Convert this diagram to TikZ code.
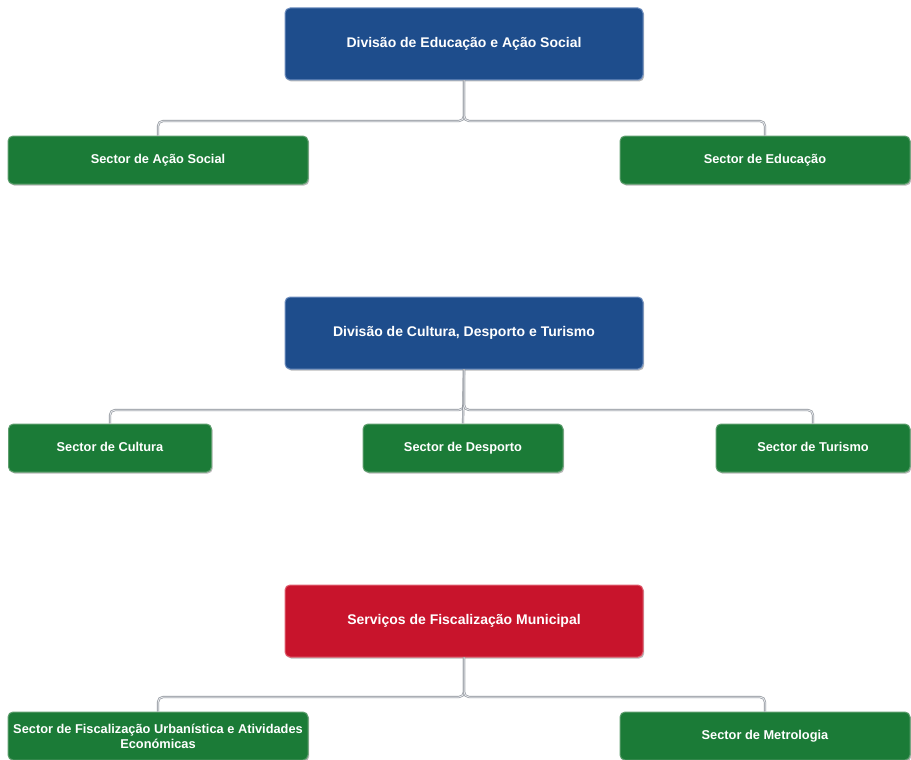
\documentclass[tikz,border=0pt]{standalone}
\usepackage{fontspec}
\setmainfont{Liberation Sans}
\usetikzlibrary{shadows}
\definecolor{divblue}{HTML}{1E4D8C}
\definecolor{divblueedge}{HTML}{6F8FBF}
\definecolor{secgreen}{HTML}{1B7B37}
\definecolor{secgreenedge}{HTML}{5E9E6E}
\definecolor{fisred}{HTML}{C8142C}
\definecolor{fisrededge}{HTML}{E06070}
\definecolor{linegray}{HTML}{8A8F96}
\definecolor{lineinner}{HTML}{E6E8EC}
\tikzset{
  boxbase/.style={rectangle, rounded corners=5pt, text=white, font=\bfseries,
    align=center, line width=1pt,
    drop shadow={shadow xshift=1.2pt, shadow yshift=-1.5pt, fill=black!45, opacity=0.6}},
  oneline/.style={text height=1.6ex, text depth=0.45ex},
  divbox/.style={boxbase, oneline, fill=divblue, draw=divblueedge, minimum width=358pt,
    minimum height=72pt, font=\bfseries\fontsize{14}{17}\selectfont},
  redbox/.style={boxbase, oneline, fill=fisred, draw=fisrededge, minimum width=358pt,
    minimum height=72pt, font=\bfseries\fontsize{14}{17}\selectfont},
  secbox/.style={boxbase, fill=secgreen, draw=secgreenedge, minimum height=48pt,
    font=\bfseries\fontsize{12.8}{15}\selectfont, inner xsep=2pt},
  conn/.style={draw=linegray, double=lineinner, double distance=1pt,
    line width=0.6pt, rounded corners=5pt}
}
\begin{document}
\begin{tikzpicture}[x=1pt,y=-1pt]
\useasboundingbox (0,0) rectangle (911,760);
% group 1
\node[divbox] (d1) at (464,44) {Divisão de Educação e Ação Social};
\node[secbox, oneline, minimum width=300pt] (s11) at (158,160) {Sector de Ação Social};
\node[secbox, oneline, minimum width=290pt] (s12) at (765,160) {Sector de Educação};
\coordinate (b1) at (464,121);
% group 2
\node[divbox] (d2) at (464,333) {Divisão de Cultura, Desporto e Turismo};
\node[secbox, oneline, minimum width=203pt] (s21) at (110,448) {Sector de Cultura};
\node[secbox, oneline, minimum width=200pt] (s22) at (463,448) {Sector de Desporto};
\node[secbox, oneline, minimum width=194pt] (s23) at (813,448) {Sector de Turismo};
\coordinate (b2) at (464,410);
% group 3
\node[redbox] (d3) at (464,621) {Serviços de Fiscalização Municipal};
\node[secbox, minimum width=300pt] (s31) at (158,736) {Sector de Fiscalização Urbanística e Atividades\\Económicas};
\node[secbox, oneline, minimum width=290pt] (s32) at (765,736) {Sector de Metrologia};
\coordinate (b3) at (464,697);
% connectors
\draw[conn] (d1.south) -- (b1) -| (s11.north);
\draw[conn] (d1.south) -- (b1) -| (s12.north);
\draw[conn] (d2.south) -- (b2) -| (s21.north);
\draw[conn] (d2.south) -- (s22.north);
\draw[conn] (d2.south) -- (b2) -| (s23.north);
\draw[conn] (d3.south) -- (b3) -| (s31.north);
\draw[conn] (d3.south) -- (b3) -| (s32.north);
\end{tikzpicture}
\end{document}
